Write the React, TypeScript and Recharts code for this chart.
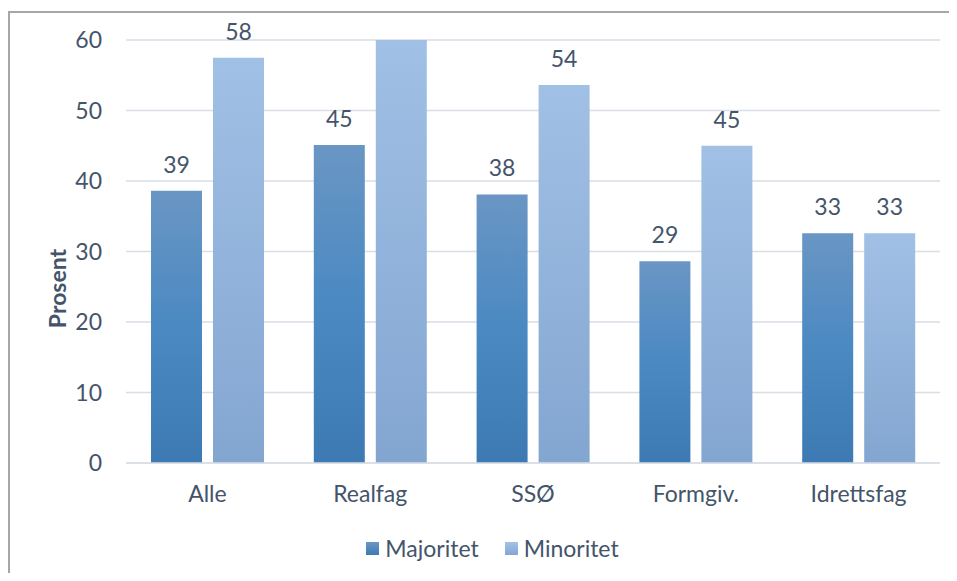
import React from 'react';
import { BarChart, Bar, XAxis, YAxis, CartesianGrid, Legend, LabelList } from 'recharts';

const categories = ['Alle', 'Realfag', 'SSØ', 'Formgiv.', 'Idrettsfag'];
const majoritet = [38.6, 45.1, 38.1, 28.6, 32.6];
const minoritet = [57.5, 61, 53.6, 45.0, 32.6];
const yTicks = [0, 10, 20, 30, 40, 50, 60];

const data = categories.map((name, i) => ({
  name,
  majoritet: majoritet[i],
  minoritet: minoritet[i],
}));

const FONT = 'Lato, "Open Sans", sans-serif';
const TEXT = '#44546A';
const FS = 23;

// Realfag minoritet runs past the top of the axis, so its label is dropped
const fmt = (v: any) => (v > 60 ? '' : Math.round(v));

function LegendBox() {
  const items = [
    { label: 'Majoritet', from: '#6A96C4', to: '#3D7AB4' },
    { label: 'Minoritet', from: '#A3C2E6', to: '#83A6D1' },
  ];
  return (
    <div style={{ height: 40 }}>
      <div style={{ display: 'flex', justifyContent: 'center', position: 'relative', top: -2, paddingLeft: 35 }}>
        {items.map((it, idx) => (
          <div key={it.label} style={{ display: 'flex', alignItems: 'center', marginLeft: idx ? 26 : 0, lineHeight: '28px' }}>
            <span
              style={{
                display: 'inline-block',
                width: 13,
                height: 13,
                marginRight: 6,
                background: `linear-gradient(${it.from}, ${it.to})`,
              }}
            />
            <span style={{ color: TEXT, fontSize: FS, fontFamily: FONT }}>{it.label}</span>
          </div>
        ))}
      </div>
    </div>
  );
}

export default function App() {
  return (
    <div
      style={{
        position: 'relative',
        top: 3,
        width: 947,
        height: 563,
        borderLeft: '2px solid #A6A6A6',
        borderTop: '2px solid #A6A6A6',
        fontFamily: FONT,
        background: '#fff',
      }}
    >
      <BarChart
        width={947}
        height={563}
        data={data}
        margin={{ top: 27, right: 17, left: 0, bottom: 0 }}
        barGap={11}
        barCategoryGap={25}
      >
        <defs>
          <linearGradient id="gradMaj" x1="0" y1="0" x2="0" y2="1">
            <stop offset="0%" stopColor="#6A96C4" />
            <stop offset="50%" stopColor="#4A89C2" />
            <stop offset="100%" stopColor="#3D7AB4" />
          </linearGradient>
          <linearGradient id="gradMin" x1="0" y1="0" x2="0" y2="1">
            <stop offset="0%" stopColor="#A1C0E5" />
            <stop offset="100%" stopColor="#83A6D1" />
          </linearGradient>
        </defs>
        <CartesianGrid vertical={false} stroke="#D9DEE6" strokeWidth={1.5} />
        <XAxis
          dataKey="name"
          height={73}
          axisLine={{ stroke: '#D9DEE6', strokeWidth: 1.5 }}
          tickLine={false}
          tickSize={0}
          tickMargin={23}
          tick={{ fill: TEXT, fontSize: FS, fontFamily: FONT }}
        />
        <YAxis
          width={116}
          domain={[0, 60]}
          ticks={yTicks}
          allowDataOverflow
          axisLine={false}
          tickLine={false}
          tickSize={0}
          tickMargin={24}
          tick={{ fill: TEXT, fontSize: FS, fontFamily: FONT }}
          label={{
            content: (props: any) => {
              const vb = props.viewBox || {};
              const x = (vb.x || 0) + 47;
              const y = (vb.y || 0) + (vb.height || 0) / 2 + 37;
              return (
                <text
                  x={x}
                  y={y}
                  transform={`rotate(-90, ${x}, ${y})`}
                  textAnchor="middle"
                  dominantBaseline="central"
                  fill={TEXT}
                  fontSize={FS}
                  fontWeight="bold"
                  fontFamily={FONT}
                >
                  Prosent
                </text>
              );
            },
          }}
        />
        <Legend verticalAlign="bottom" content={() => <LegendBox />} />
        <Bar dataKey="majoritet" name="Majoritet" fill="url(#gradMaj)" isAnimationActive={false}>
          <LabelList dataKey="majoritet" position="top" offset={18} formatter={fmt} fill={TEXT} fontSize={FS} fontFamily={FONT} />
        </Bar>
        <Bar dataKey="minoritet" name="Minoritet" fill="url(#gradMin)" isAnimationActive={false}>
          <LabelList dataKey="minoritet" position="top" offset={18} formatter={fmt} fill={TEXT} fontSize={FS} fontFamily={FONT} />
        </Bar>
      </BarChart>
    </div>
  );
}
